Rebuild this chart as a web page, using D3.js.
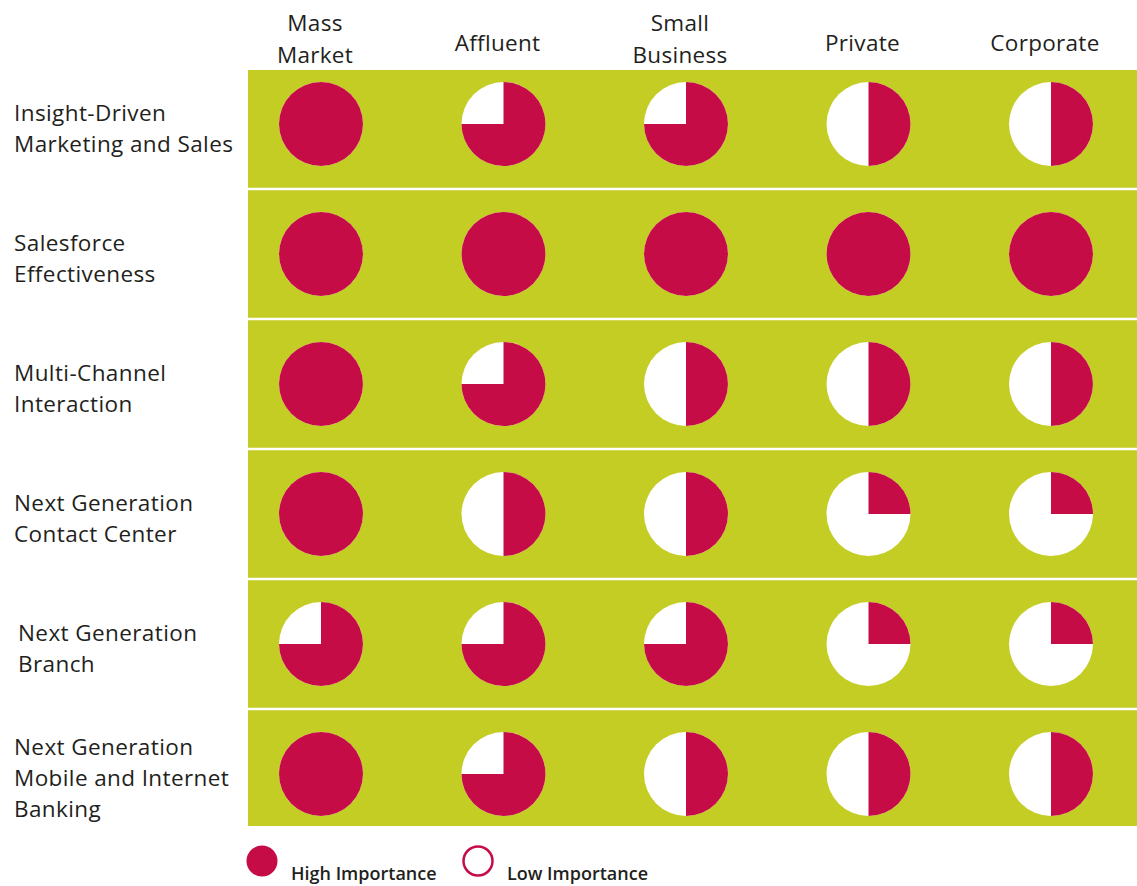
<!DOCTYPE html>
<html><head><meta charset="utf-8">
<script src="https://cdn.jsdelivr.net/npm/d3@7"></script>
<style>
body{margin:0;background:#fff;}
text{font-family:"Open Sans",sans-serif;fill:#231f20;}
</style></head>
<body><svg id="c" width="1137" height="886"></svg>
<script>
const segments = ["Mass\nMarket","Affluent","Small\nBusiness","Private","Corporate"];
const capabilities = ["Insight-Driven\nMarketing and Sales","Salesforce\nEffectiveness","Multi-Channel\nInteraction","Next Generation\nContact Center","Next Generation\nBranch","Next Generation\nMobile and Internet\nBanking"];
const importance = [
  [1, 0.75, 0.75, 0.5, 0.5],
  [1, 1, 1, 1, 1],
  [1, 0.75, 0.5, 0.5, 0.5],
  [1, 0.5, 0.5, 0.25, 0.25],
  [0.75, 0.75, 0.75, 0.25, 0.25],
  [1, 0.75, 0.5, 0.5, 0.5]
];
const legendItems = ["High Importance","Low Importance"];

const RED = "#c60c46", GREEN = "#c3cd23";
const svg = d3.select("#c");
const x = d3.scalePoint().domain(d3.range(segments.length)).range([321, 1051]);
const y = d3.scalePoint().domain(d3.range(capabilities.length)).range([124, 774]);
const top0 = 70, bottom0 = 826, left0 = 248;

// background
svg.append("rect").attr("x", left0).attr("y", top0).attr("width", 1137 - left0).attr("height", bottom0 - top0).attr("fill", GREEN);
const seps = d3.range(1, capabilities.length).map(i => (y(i - 1) + y(i)) / 2);
svg.selectAll("line.sep").data(seps).join("line")
  .attr("x1", left0).attr("x2", 1137).attr("y1", d => d).attr("y2", d => d)
  .attr("stroke", "#fff").attr("stroke-width", 2.5);

// headers
const hdr = svg.selectAll("text.hdr").data(segments).join("text")
  .attr("class", "hdr").attr("text-anchor", "middle").attr("font-size", 22.5)
  .attr("font-weight", 500).attr("letter-spacing", 0.3);
hdr.each(function(d, i) {
  const lines = d.split("\n");
  const base = lines.length === 1 ? 51 : 31;
  d3.select(this).selectAll("tspan").data(lines).join("tspan")
    .attr("x", x(i) - 6).attr("y", (l, k) => base + k * 32).text(l => l);
});

// row labels
const rl = svg.selectAll("text.rl").data(capabilities).join("text")
  .attr("class", "rl").attr("font-size", 22.5).attr("font-weight", 500).attr("letter-spacing", 0.4);
rl.each(function(d, i) {
  const lines = d.split("\n");
  const h = (lines.length - 1) * 31;
  d3.select(this).selectAll("tspan").data(lines).join("tspan")
    .attr("x", i === 4 ? 18 : 14).attr("y", (l, k) => y(i) + 12 - h / 2 + k * 31).text(l => l);
});

// Harvey balls
const R = 42;
const arc = d3.arc().innerRadius(0).outerRadius(R).startAngle(0);
importance.forEach((row, i) => {
  row.forEach((v, j) => {
    const g = svg.append("g").attr("transform", `translate(${x(j)},${y(i)})`);
    g.append("circle").attr("r", R).attr("fill", "#fff");
    if (v >= 1) g.append("circle").attr("r", R).attr("fill", RED);
    else g.append("path").attr("d", arc({endAngle: v * 2 * Math.PI})).attr("fill", RED);
  });
});

// legend
svg.append("circle").attr("cx", 262).attr("cy", 861).attr("r", 15.5).attr("fill", RED);
svg.append("text").attr("x", 291).attr("y", 880).attr("font-size", 18).attr("font-weight", 600).text(legendItems[0]);
svg.append("circle").attr("cx", 478).attr("cy", 861).attr("r", 14.5).attr("fill", "#fff").attr("stroke", RED).attr("stroke-width", 2.5);
svg.append("text").attr("x", 507).attr("y", 880).attr("font-size", 18).attr("font-weight", 600).text(legendItems[1]);
</script></body></html>
